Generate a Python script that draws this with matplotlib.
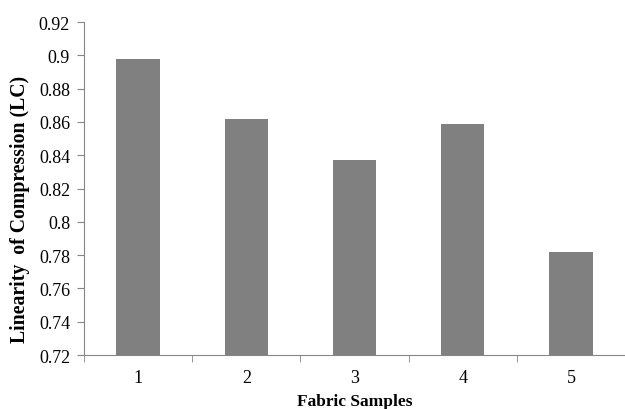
import numpy as np
import matplotlib.pyplot as plt
from matplotlib.ticker import FixedLocator

# Data
samples = ['1', '2', '3', '4', '5']
lc_values = [0.898, 0.862, 0.837, 0.859, 0.782]
y_ticks = [0.72, 0.74, 0.76, 0.78, 0.80, 0.82, 0.84, 0.86, 0.88, 0.90, 0.92]

plt.rcParams['font.family'] = ['Liberation Serif', 'DejaVu Serif']

fig = plt.figure(figsize=(6.25, 4.1), dpi=100)
ax = fig.add_axes([0.1344, 0.1317, 0.8656, 0.8122])

x = np.arange(len(samples))
ax.bar(x, lc_values, width=0.4, color='#808080', zorder=2)

ax.set_xlim(-0.5, len(samples) - 0.5)
ax.set_ylim(0.72, 0.92)
ax.set_yticks(y_ticks)
ax.set_yticklabels(['%g' % v for v in y_ticks])
ax.set_xticks(x)
ax.set_xticklabels(samples)
ax.xaxis.set_minor_locator(FixedLocator(np.arange(-0.5, len(samples) + 0.5, 1)))

ax.tick_params(axis='x', which='major', length=0, pad=10, labelsize=13)
ax.tick_params(axis='x', which='minor', length=5, color='#868686')
ax.tick_params(axis='y', length=5, color='#868686', labelsize=13, pad=5)

for s in ['top', 'right']:
    ax.spines[s].set_visible(False)
for s in ['left', 'bottom']:
    ax.spines[s].set_color('#868686')

ax.set_xlabel('Fabric Samples', fontweight='bold', fontsize=12.5)
ax.xaxis.set_label_coords(0.5, -0.115)
ax.set_ylabel('Linearity  of Compression (LC)', fontweight='bold', fontsize=14.2)
ax.yaxis.set_label_coords(-0.10, 0.44)

fig.savefig('out.png', dpi=100)
